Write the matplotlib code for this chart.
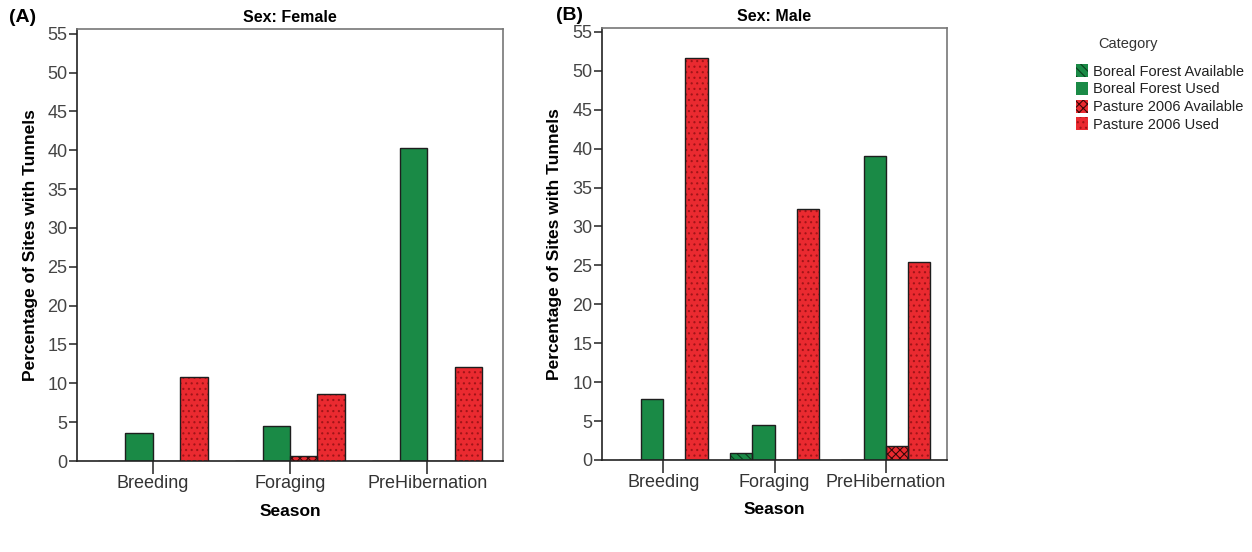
import numpy as np
import matplotlib
matplotlib.use("Agg")
import matplotlib.pyplot as plt
from matplotlib.patches import Patch

# data
seasons = ["Breeding", "Foraging", "PreHibernation"]
categories = ["Boreal Forest Available", "Boreal Forest Used",
              "Pasture 2006 Available", "Pasture 2006 Used"]

female_bf_avail = [0.0, 0.0, 0.0]
female_bf_used = [3.6, 4.5, 40.3]
female_pa_avail = [0.0, 0.6, 0.0]
female_pa_used = [10.8, 8.6, 12.1]

male_bf_avail = [0.0, 0.9, 0.0]
male_bf_used = [7.9, 4.5, 39.1]
male_pa_avail = [0.0, 0.0, 1.8]
male_pa_used = [51.6, 32.2, 25.4]

yticks = list(range(0, 56, 5))

plt.rcParams["font.family"] = ["Liberation Sans", "DejaVu Sans"]
plt.rcParams["hatch.linewidth"] = 0.8

green = "#1a8a46"
red = "#ea2a30"
styles = [
    dict(face=green, hatch="\\\\\\\\", hcol="#0b3d1e"),
    dict(face=green, hatch=None, hcol=None),
    dict(face=red, hatch="xxxx", hcol="#3a0808"),
    dict(face=red, hatch="...", hcol="#a01418"),
]
offsets = [-0.3, -0.1, 0.1, 0.3]
width = 0.2

W, H = 1252, 552
fig = plt.figure(figsize=(W / 100, H / 100), dpi=100)


def draw_panel(rect, series, title, letter, letter_xy, ytop):
    ax = fig.add_axes(rect)
    x = np.arange(len(seasons))
    for vals, off, st in zip(series, offsets, styles):
        xs = x + off
        ax.bar(xs, vals, width, color=st["face"], edgecolor="none", linewidth=0, zorder=2)
        if st["hatch"]:
            ax.bar(xs, vals, width, color="none", edgecolor=st["hcol"], hatch=st["hatch"],
                   linewidth=0, zorder=3)
        ax.bar(xs, vals, width, color="none", edgecolor="#1e1e1e", linewidth=1.0, zorder=4)
    ax.set_xlim(-0.55, 2.55)
    ax.set_ylim(0, ytop)
    ax.set_yticks(yticks)
    ax.set_xticks(x)
    ax.set_xticklabels(seasons, fontsize=13, color="#333333")
    ax.set_yticklabels([str(t) for t in yticks], fontsize=13, color="#444444")
    ax.tick_params(axis="y", length=6, width=1.2, color="#333333", pad=1)
    ax.tick_params(axis="x", length=9, width=1.2, color="#333333", pad=1)
    for s in ["left", "bottom"]:
        ax.spines[s].set_color("#222222")
        ax.spines[s].set_linewidth(1.2)
    for s in ["top", "right"]:
        ax.spines[s].set_color("#777777")
        ax.spines[s].set_linewidth(1.2)
    ax.set_ylabel("Percentage of Sites with Tunnels", fontsize=12.5, fontweight="bold", va="center")
    ax.set_xlabel("Season", fontsize=12.5, fontweight="bold", va="center")
    # label positions in pixels relative to the axes
    axw = rect[2] * W
    axh = rect[3] * H
    ax.yaxis.set_label_coords(-47 / axw, 0.5)
    ax.xaxis.set_label_coords(0.5, -50 / axh)
    ax.text(0.5, 1 + 12 / axh, title, transform=ax.transAxes, ha="center", va="center",
            fontsize=11.5, fontweight="bold")
    fig.text(letter_xy[0] / W, 1 - letter_xy[1] / H, letter, ha="left", va="center",
             fontsize=14, fontweight="bold")
    return ax


axA = draw_panel([77 / W, 1 - 461 / H, 426 / W, 432 / H],
                 [female_bf_avail, female_bf_used, female_pa_avail, female_pa_used],
                 "Sex: Female", "(A)", (9, 18), 55.6)
axB = draw_panel([602 / W, 1 - 460 / H, 345 / W, 432 / H],
                 [male_bf_avail, male_bf_used, male_pa_avail, male_pa_used],
                 "Sex: Male", "(B)", (556, 16), 55.5)

handles = []
for cat, st in zip(categories, styles):
    handles.append(Patch(facecolor=st["face"], edgecolor=st["hcol"] if st["hatch"] else st["face"],
                         hatch=st["hatch"], linewidth=0, label=cat))
fig.text(1128 / W, 1 - 44 / H, "Category", ha="center", va="center", fontsize=10.5,
         color="#333333")
leg = fig.legend(handles=handles, loc="upper left", bbox_to_anchor=(1066 / W, 1 - 54 / H),
                 frameon=False, fontsize=10.5, handlelength=0.8, handleheight=1.0,
                 handletextpad=0.35, labelspacing=0.22, borderpad=0.2)
for t in leg.get_texts():
    t.set_color("#222222")

fig.savefig("out.png", dpi=100)
